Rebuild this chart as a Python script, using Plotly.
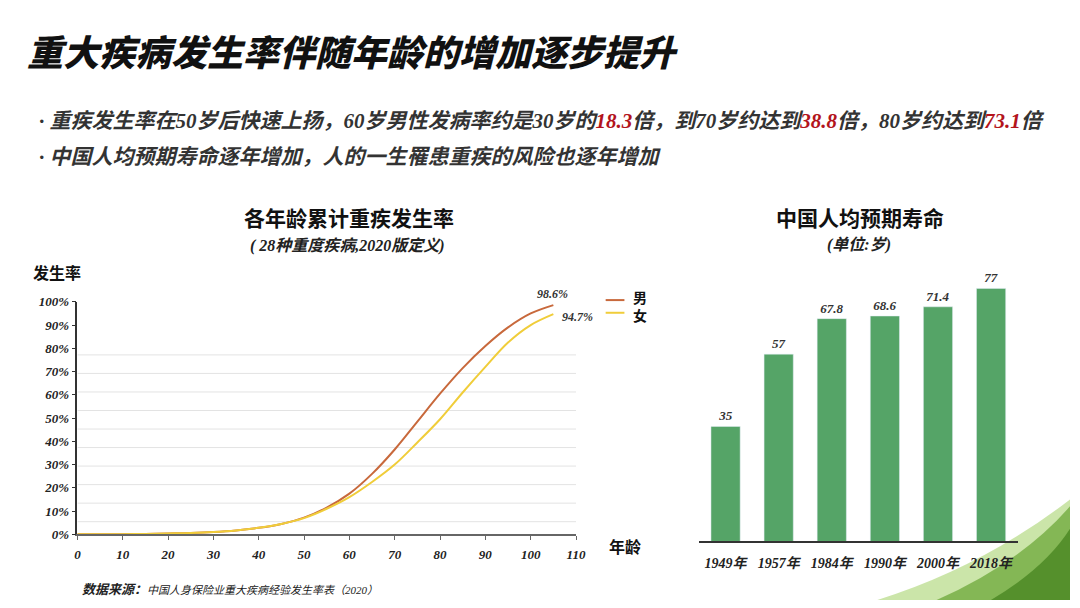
import plotly.graph_objects as go

# 各年龄累计重疾发生率（%）
ages = [0, 5, 10, 15, 20, 25, 30, 35, 40, 45, 50, 55, 60, 65, 70, 75, 80, 85, 90, 95, 100, 105]
male_rate = [0, 0.05, 0.1, 0.2, 0.4, 0.6, 1.0, 1.7, 2.8, 4.5, 7.2, 11.5, 17.5, 26.0, 36.5, 48.5, 60.5, 71.5, 81.0, 89.0, 95.0, 98.6]
female_rate = [0, 0.05, 0.1, 0.2, 0.4, 0.6, 1.0, 1.7, 2.8, 4.5, 7.0, 11.0, 16.0, 22.5, 30.0, 39.5, 49.5, 61.0, 72.0, 82.5, 90.0, 94.7]

# 中国人均预期寿命（岁）
years = ["1949年", "1957年", "1984年", "1990年", "2000年", "2018年"]
life_exp = [35, 57, 67.8, 68.6, 71.4, 77]
life_labels = ["35", "57", "67.8", "68.6", "71.4", "77"]

W, H = 1080, 608
SERIF = "Liberation Serif, Noto Sans CJK SC"
CJK = "Noto Sans CJK SC"
RED = "#b3141c"
C_MALE = "#c8693c"
C_FEMALE = "#f0cd3a"
GREEN = "#55a467"


def px(x):
    return x / W


def py(y):
    return 1 - y / H


fig = go.Figure()

fig.add_trace(go.Scatter(x=ages, y=male_rate, mode="lines", name="男",
                         line=dict(color=C_MALE, width=2, shape="spline", smoothing=1),
                         xaxis="x", yaxis="y", cliponaxis=False, showlegend=False))
fig.add_trace(go.Scatter(x=ages, y=female_rate, mode="lines", name="女",
                         line=dict(color=C_FEMALE, width=2, shape="spline", smoothing=1),
                         xaxis="x", yaxis="y", cliponaxis=False, showlegend=False))

fig.add_trace(go.Bar(x=years, y=life_exp, text=life_labels, textposition="outside",
                     marker=dict(color=GREEN), showlegend=False,
                     textfont=dict(family=SERIF, size=13, color="#333", style="italic", weight="bold"),
                     xaxis="x2", yaxis="y2", cliponaxis=False))

# 背景装饰与网格线
shapes = [
    dict(type="path", xref="paper", yref="paper", layer="below", line=dict(width=0),
         fillcolor="rgba(185,220,140,0.75)",
         path=f"M {px(885)},{py(608)} Q {px(990)},{py(575)} {px(1080)},{py(505)} L {px(1080)},{py(608)} Z"),
    dict(type="path", xref="paper", yref="paper", layer="below", line=dict(width=0),
         fillcolor="rgba(120,175,70,0.85)",
         path=f"M {px(945)},{py(608)} Q {px(1030)},{py(570)} {px(1080)},{py(512)} L {px(1080)},{py(608)} Z"),
    dict(type="path", xref="paper", yref="paper", layer="below", line=dict(width=0),
         fillcolor="rgba(80,140,40,0.9)",
         path=f"M {px(1000)},{py(608)} Q {px(1055)},{py(575)} {px(1080)},{py(535)} L {px(1080)},{py(608)} Z"),
]
for k in range(10):
    g = 5.45 + 7.97 * k
    shapes.append(dict(type="line", xref="x", yref="y", x0=0, x1=110, y0=g, y1=g,
                       layer="below", line=dict(color="#e3e3e3", width=1)))

# 图例（男 / 女）
legend_items = [("男", C_MALE, 300.5, 297), ("女", C_FEMALE, 313.5, 316)]
for name, color, yy, ty in legend_items:
    shapes.append(dict(type="line", xref="paper", yref="paper", x0=px(610), x1=px(629),
                       y0=py(yy), y1=py(yy), line=dict(color=color, width=2)))

tick_font = dict(family=SERIF, size=13, color="#222", style="italic", weight="bold")

annotations = [
    dict(text="重大疾病发生率伴随年龄的增加逐步提升", x=px(22), y=py(44), xanchor="left", yanchor="middle",
         font=dict(family=CJK, size=36, color="#111", style="italic", weight=900)),
    dict(text=f"· 重疾发生率在50岁后快速上扬，60岁男性发病率约是30岁的<span style='color:{RED}'>18.3</span>倍，"
              f"到70岁约达到<span style='color:{RED}'>38.8</span>倍，80岁约达到<span style='color:{RED}'>73.1</span>倍",
         x=px(34), y=py(117), xanchor="left", yanchor="middle",
         font=dict(family=SERIF, size=21, color="#333", style="italic", weight="bold")),
    dict(text="· 中国人均预期寿命逐年增加，人的一生罹患重疾的风险也逐年增加",
         x=px(34), y=py(154), xanchor="left", yanchor="middle",
         font=dict(family=SERIF, size=21, color="#333", style="italic", weight="bold")),
    dict(text="各年龄累计重疾发生率", x=px(350), y=py(215), xanchor="center", yanchor="middle",
         font=dict(family=CJK, size=21, color="#111", weight="bold")),
    dict(text="( 28种重度疾病,2020版定义)", x=px(349), y=py(245), xanchor="center", yanchor="middle",
         font=dict(family=SERIF, size=16, color="#222", style="italic", weight="bold")),
    dict(text="中国人均预期寿命", x=px(867), y=py(215), xanchor="center", yanchor="middle",
         font=dict(family=CJK, size=21, color="#111", weight="bold")),
    dict(text="(单位:岁)", x=px(866), y=py(244), xanchor="center", yanchor="middle",
         font=dict(family=SERIF, size=16, color="#222", style="italic", weight="bold")),
    dict(text="发生率", x=px(28), y=py(272), xanchor="left", yanchor="middle",
         font=dict(family=CJK, size=16, color="#111", weight="bold")),
    dict(text="年龄", x=px(611), y=py(553), xanchor="left", yanchor="middle",
         font=dict(family=CJK, size=16, color="#111", weight="bold")),
    dict(text=f"{male_rate[-1]}%", x=ages[-1], y=male_rate[-1], xref="x", yref="y", showarrow=False,
         xshift=-1, yshift=11, font=dict(family=SERIF, size=12, color="#333", style="italic", weight="bold")),
    dict(text=f"{female_rate[-1]}%", x=ages[-1], y=female_rate[-1], xref="x", yref="y", showarrow=False,
         xshift=24, yshift=-3, font=dict(family=SERIF, size=12, color="#333", style="italic", weight="bold")),
    dict(text="<b>数据来源：</b><span style='font-size:11px'>中国人身保险业重大疾病经验发生率表（2020）</span>",
         x=px(78), y=py(597), xanchor="left", yanchor="middle",
         font=dict(family=SERIF, size=13, color="#222", style="italic")),
]
for name, color, yy, ty in legend_items:
    annotations.append(dict(text=name, x=px(636), y=py(ty), xanchor="left", yanchor="middle",
                            font=dict(family=CJK, size=14, color="#111", weight="bold")))
for a in annotations:
    a.setdefault("xref", "paper")
    a.setdefault("yref", "paper")
    a.setdefault("showarrow", False)

fig.update_layout(
    width=W, height=H,
    margin=dict(l=0, r=0, t=0, b=0),
    paper_bgcolor="white",
    plot_bgcolor="rgba(0,0,0,0)",
    shapes=shapes,
    annotations=annotations,
    bargap=0.45,
    xaxis=dict(domain=[px(75.3), px(580)], range=[0, 110], dtick=10, tick0=0,
               showgrid=False, zeroline=False, showline=True, linecolor="#666", linewidth=1.5,
               ticks="outside", ticklen=4, tickcolor="#666", tickfont=tick_font, ticklabelstandoff=3),
    yaxis=dict(domain=[py(540.7), py(302.3)], range=[0, 100], dtick=10, ticksuffix="%",
               showgrid=False, zeroline=False, showline=True, linecolor="#333", linewidth=1.5,
               ticks="outside", ticklen=4, tickcolor="#333", tickfont=tick_font),
    xaxis2=dict(domain=[px(704.5), px(1027)], anchor="y2",
                showgrid=False, showline=True, linecolor="#333", linewidth=1.5,
                ticks="", ticklabelstandoff=8,
                tickfont=dict(family=SERIF, size=14, color="#222", style="italic", weight="bold")),
    yaxis2=dict(domain=[py(548), py(278.4)], range=[0, 80], anchor="x2",
                visible=False, showgrid=False),
)

fig.write_html("out.html", config={"displayModeBar": False},
               post_script="document.body.style.margin='0px';")
